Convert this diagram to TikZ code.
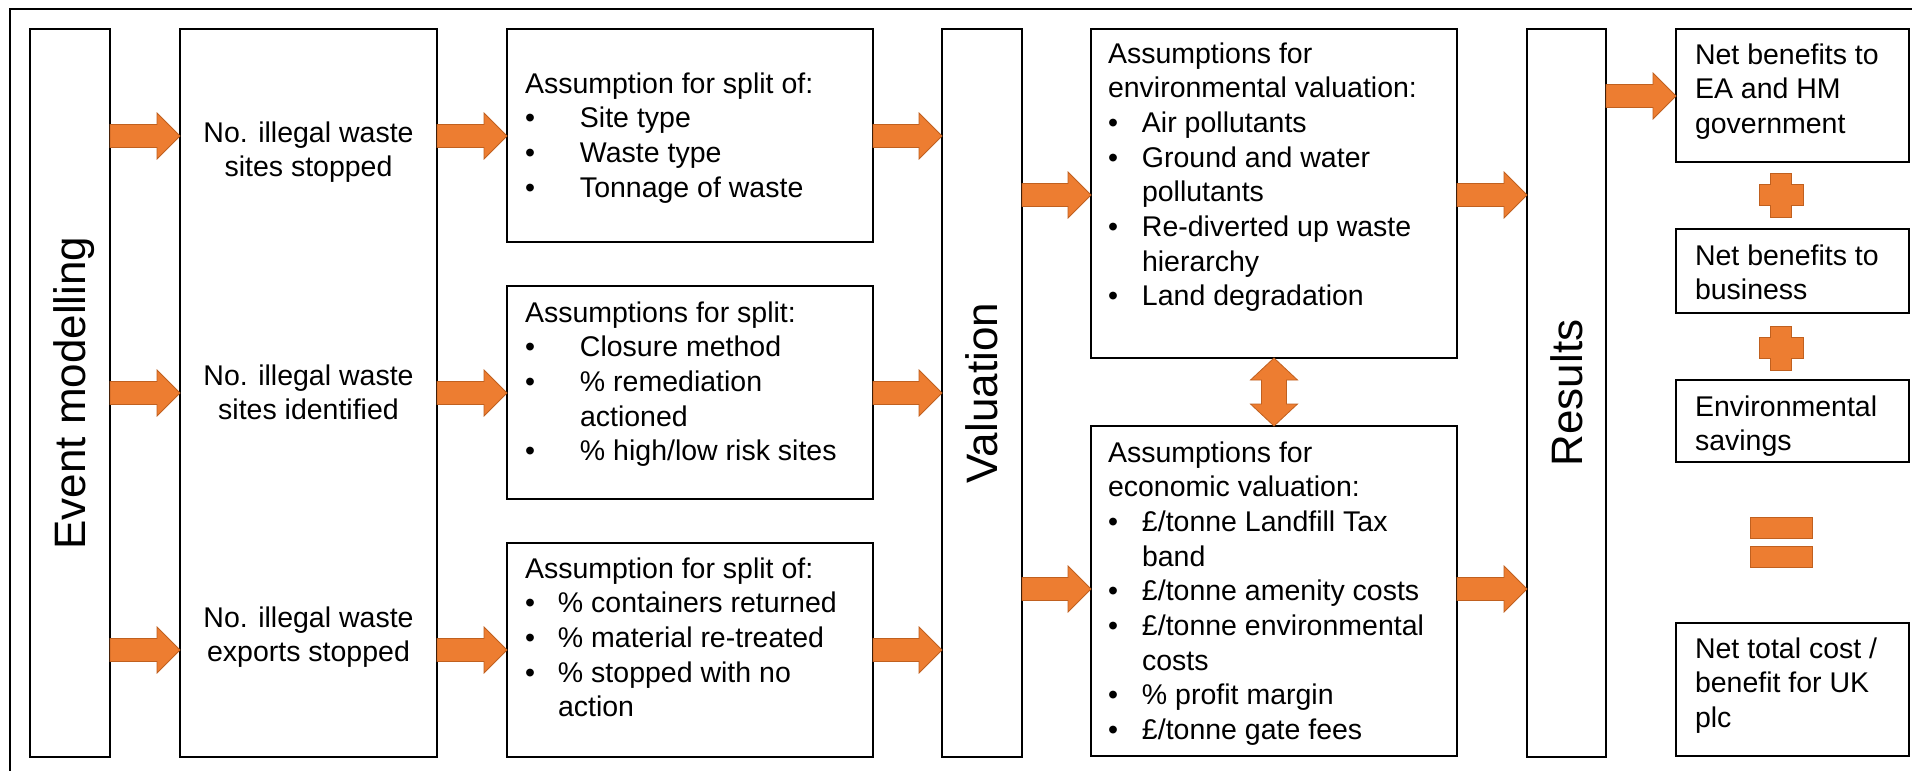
\documentclass[tikz,border=0pt]{standalone}
\usepackage{fontspec}
\setmainfont{Liberation Sans}
\usetikzlibrary{calc}
\definecolor{arrfill}{HTML}{ED7D31}
\definecolor{arrline}{HTML}{C0601F}
\newcommand\fs{\fontsize{28.5}{34.7}\selectfont}
\newcommand\bigfs{\fontsize{44}{50}\selectfont}
\newcommand\bl[1]{\makebox[#1][l]{•}}
\newcommand\hblock[2]{\filldraw[blockarr] let \p1=(#1), \p2=(#2) in
  (\x1,{\y1+11.5pt}) -- ({\x2-23pt},{\y1+11.5pt}) -- ({\x2-23pt},{\y1+23pt}) -- (\x2,\y1)
  -- ({\x2-23pt},{\y1-23pt}) -- ({\x2-23pt},{\y1-11.5pt}) -- (\x1,{\y1-11.5pt}) -- cycle;}
\newcommand\vdblock[2]{\filldraw[blockarr] let \p1=(#1), \p2=(#2) in
  (\x1,\y1) -- ({\x1+23.5pt},{\y1-22pt}) -- ({\x1+12.5pt},{\y1-22pt}) -- ({\x1+12.5pt},{\y2+22pt})
  -- ({\x1+23.5pt},{\y2+22pt}) -- (\x1,\y2) -- ({\x1-23.5pt},{\y2+22pt}) -- ({\x1-12.5pt},{\y2+22pt})
  -- ({\x1-12.5pt},{\y1-22pt}) -- ({\x1-23.5pt},{\y1-22pt}) -- cycle;}
\tikzset{
  box/.style={draw, line width=2.3pt, inner sep=0pt, outer sep=0pt, anchor=north west},
  lbl/.style={inner sep=0pt, outer sep=0pt, anchor=base west, font=\fs},
  clbl/.style={inner sep=0pt, outer sep=0pt, anchor=base, font=\fs},
  vlbl/.style={inner sep=0pt, outer sep=0pt, rotate=90, font=\bigfs, text height=31.5pt, text depth=0pt},
  blockarr/.style={fill=arrfill, draw=arrline, line width=0.8pt, line join=miter},
  sign/.style={fill=arrfill, draw=arrline, line width=0.8pt}
}
\begin{document}
\begin{tikzpicture}[x=1pt, y=-1pt]
\useasboundingbox (0,0) rectangle (1912,771);
\clip (0,0) rectangle (1912,771);
\fill[white] (0,0) rectangle (1912,771);
% outer frame (right and bottom edges lie outside the picture)
\draw[line width=2.3pt] (10,800) -- (10,9) -- (1940,9);

% boxes
\node[box, minimum width=80pt, minimum height=728pt] (ev) at (30,29) {};
\node[box, minimum width=257pt, minimum height=728pt] (nb) at (180,29) {};
\node[box, minimum width=366pt, minimum height=213pt] (sa) at (507,29) {};
\node[box, minimum width=366pt, minimum height=213pt] (sb) at (507,286) {};
\node[box, minimum width=366pt, minimum height=214pt] (sc) at (507,543) {};
\node[box, minimum width=80pt, minimum height=728pt] (val) at (942,29) {};
\node[box, minimum width=366pt, minimum height=329pt] (env) at (1091,29) {};
\node[box, minimum width=366pt, minimum height=330pt] (eco) at (1091,426) {};
\node[box, minimum width=79pt, minimum height=728pt] (res) at (1527,29) {};
\node[box, minimum width=233pt, minimum height=133pt] (r1) at (1676,29) {};
\node[box, minimum width=233pt, minimum height=84pt] (r2) at (1676,229) {};
\node[box, minimum width=233pt, minimum height=82pt] (r3) at (1676,380) {};
\node[box, minimum width=233pt, minimum height=133pt] (r4) at (1676,623) {};

% vertical labels
\node[vlbl] (evt) at (ev.center) {Event modelling};
\node[vlbl] (valt) at (val.center) {Valuation};
\node[vlbl] (rest) at (res.center) {Results};

% number texts
\node[clbl] (n1) at (308.5,142) {\begin{tabular}[t]{@{}c@{}}No. illegal waste\\ sites stopped\end{tabular}};
\node[clbl] (n2) at (308.5,385) {\begin{tabular}[t]{@{}c@{}}No. illegal waste\\ sites identified\end{tabular}};
\node[clbl] (n3) at (308.5,627) {\begin{tabular}[t]{@{}c@{}}No. illegal waste\\ exports stopped\end{tabular}};

% split texts
\node[lbl] (ta) at (525,93) {\begin{tabular}[t]{@{}l@{}}Assumption for split of:\\
  \bl{55pt}Site type\\ \bl{55pt}Waste type\\ \bl{55pt}Tonnage of waste\end{tabular}};
\node[lbl] (tb) at (525,322) {\begin{tabular}[t]{@{}l@{}}Assumptions for split:\\
  \bl{55pt}Closure method\\ \bl{55pt}\% remediation\\ \hspace*{55pt}actioned\\ \bl{55pt}\% high/low risk sites\end{tabular}};
\node[lbl] (tc) at (525,578) {\begin{tabular}[t]{@{}l@{}}Assumption for split of:\\
  \bl{33pt}\% containers returned\\ \bl{33pt}\% material re-treated\\ \bl{33pt}\% stopped with no\\ \hspace*{33pt}action\end{tabular}};

% valuation texts
\node[lbl] (te) at (1108,63) {\begin{tabular}[t]{@{}l@{}}Assumptions for\\ environmental valuation:\\
  \bl{34pt}Air pollutants\\ \bl{34pt}Ground and water\\ \hspace*{34pt}pollutants\\
  \bl{34pt}Re-diverted up waste\\ \hspace*{34pt}hierarchy\\ \bl{34pt}Land degradation\end{tabular}};
\node[lbl] (tk) at (1108,462) {\begin{tabular}[t]{@{}l@{}}Assumptions for\\ economic valuation:\\
  \bl{34pt}£/tonne Landfill Tax\\ \hspace*{34pt}band\\ \bl{34pt}£/tonne amenity costs\\
  \bl{34pt}£/tonne environmental\\ \hspace*{34pt}costs\\ \bl{34pt}\% profit margin\\ \bl{34pt}£/tonne gate fees\end{tabular}};

% result texts
\node[lbl] (t1) at (1695,64) {\begin{tabular}[t]{@{}l@{}}Net benefits to\\ EA and HM\\ government\end{tabular}};
\node[lbl] (t2) at (1695,265) {\begin{tabular}[t]{@{}l@{}}Net benefits to\\ business\end{tabular}};
\node[lbl] (t3) at (1695,416) {\begin{tabular}[t]{@{}l@{}}Environmental\\ savings\end{tabular}};
\node[lbl] (t4) at (1695,658) {\begin{tabular}[t]{@{}l@{}}Net total cost /\\ benefit for UK\\ plc\end{tabular}};

% row coordinates
\coordinate (ya) at (0,136);
\coordinate (yb) at (0,393);
\coordinate (yc) at (0,650);
\coordinate (ye) at (0,195);
\coordinate (yk) at (0,589);
\coordinate (yr) at (0,96);

% block arrows
\hblock{ev.east |- ya}{nb.west |- ya}
\hblock{ev.east |- yb}{nb.west |- yb}
\hblock{ev.east |- yc}{nb.west |- yc}
\hblock{nb.east |- ya}{sa.west |- ya}
\hblock{nb.east |- yb}{sb.west |- yb}
\hblock{nb.east |- yc}{sc.west |- yc}
\hblock{sa.east |- ya}{val.west |- ya}
\hblock{sb.east |- yb}{val.west |- yb}
\hblock{sc.east |- yc}{val.west |- yc}
\hblock{val.east |- ye}{env.west |- ye}
\hblock{val.east |- yk}{eco.west |- yk}
\hblock{env.east |- ye}{res.west |- ye}
\hblock{eco.east |- yk}{res.west |- yk}
\hblock{res.east |- yr}{r1.west |- yr}
\vdblock{env.south}{eco.north}

% plus signs
\filldraw[sign] (1770.5,173) -- (1791.5,173) -- (1791.5,184.5) -- (1803,184.5) -- (1803,205.5) -- (1791.5,205.5)
  -- (1791.5,217) -- (1770.5,217) -- (1770.5,205.5) -- (1759,205.5) -- (1759,184.5) -- (1770.5,184.5) -- cycle;
\filldraw[sign] (1770.5,326) -- (1791.5,326) -- (1791.5,337.5) -- (1803,337.5) -- (1803,358.5) -- (1791.5,358.5)
  -- (1791.5,370) -- (1770.5,370) -- (1770.5,358.5) -- (1759,358.5) -- (1759,337.5) -- (1770.5,337.5) -- cycle;
% equals sign
\filldraw[sign] (1750,517) rectangle (1812,538);
\filldraw[sign] (1750,546) rectangle (1812,567);
\end{tikzpicture}
\end{document}
